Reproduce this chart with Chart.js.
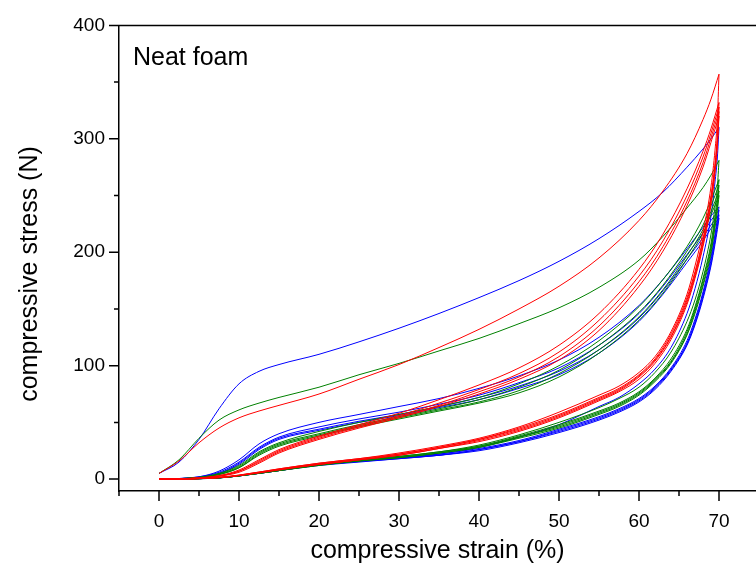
<!DOCTYPE html>
<html>
<head>
<meta charset="utf-8">
<script src="https://cdn.jsdelivr.net/npm/chart.js@4.4.1/dist/chart.umd.min.js"></script>
<style>
  html, body { margin: 0; padding: 0; background: #fff; }
</style>
</head>
<body>
<canvas id="stress-chart" width="756" height="574"></canvas>
<script>
// strain grids (%) for the loading and unloading branches
var strainLoad = [0, 2.5, 5, 7.5, 10, 12.5, 15, 20, 25, 30, 35, 40, 45, 50, 55, 60, 63, 66, 68, 69, 70];
var strainUnload = [70, 69.8, 69.5, 69, 68, 67, 66, 64, 62, 60, 57.5, 55, 50, 45, 40, 35, 30, 25, 20, 15, 10, 7.5, 5, 2.5, 0];

var xTicks = [0, 10, 20, 30, 40, 50, 60, 70];
var yTicks = [0, 100, 200, 300, 400];

// stress (N), one row per cycle
var redLoading = [
  [5, 16, 32, 45, 54, 60, 65, 75, 88, 101, 116, 132, 150, 170, 195, 228, 254, 287, 317, 335, 357],
  [0, 0.3, 1, 3, 8, 17, 26, 38, 48, 58, 70, 83, 98, 118, 146, 185, 216, 256, 289, 309, 332],
  [0, 0.3, 1, 3, 7, 16, 25, 37, 47, 56, 67, 79, 93, 112, 140, 179, 210, 250, 284, 305, 328],
  [0, 0.3, 1, 2.5, 7, 15, 24, 36, 46, 55, 65, 77, 90, 108, 135, 174, 205, 245, 279, 301, 324],
  [0, 0.3, 0.8, 2.5, 6, 14, 23, 35, 45, 54, 64, 75, 88, 105, 131, 170, 201, 241, 275, 297, 320]
];
var redUnloading = [
  [357, 318, 290, 258, 218, 188, 163, 130, 108, 94, 82, 74, 59, 46, 36, 29, 23, 18, 14, 9, 3.5, 1.5, 0.5, 0, 0],
  [332, 303, 278, 250, 212, 183, 160, 128, 106, 92, 80, 72, 57, 45, 35, 28, 22, 18, 14, 9, 3.5, 1.5, 0.5, 0, 0],
  [328, 300, 276, 248, 210, 181, 158, 126, 105, 91, 79, 71, 56, 44, 35, 28, 22, 17, 13, 8.5, 3.2, 1.4, 0.5, 0, 0],
  [324, 297, 273, 245, 207, 179, 156, 125, 104, 90, 78, 70, 55, 43, 34, 27, 21, 17, 13, 8.5, 3.2, 1.3, 0.4, 0, 0],
  [320, 294, 270, 242, 205, 177, 154, 123, 102, 88, 77, 69, 54, 42, 33, 27, 21, 17, 13, 8, 3, 1.2, 0.4, 0, 0]
];

var greenLoading = [
  [5, 17, 36, 52, 61, 67, 72, 81, 92, 102, 113, 124, 137, 151, 169, 193, 214, 239, 257, 268, 281],
  [0, 0.4, 1.5, 5, 12, 24, 32, 42, 50, 57, 64, 72, 84, 100, 122, 152, 176, 205, 230, 246, 264],
  [0, 0.4, 1.5, 4.5, 11, 23, 31, 40, 48, 55, 62, 70, 81, 96, 118, 147, 171, 201, 224, 241, 259],
  [0, 0.4, 1.3, 4, 10, 22, 30, 39, 47, 54, 61, 68, 78, 93, 114, 143, 167, 197, 220, 236, 254],
  [0, 0.3, 1.2, 4, 10, 21, 29, 38, 46, 53, 60, 67, 76, 90, 111, 140, 164, 194, 217, 233, 250]
];
var greenUnloading = [
  [281, 258, 240, 216, 183, 158, 139, 112, 94, 81, 71, 63, 50, 39, 30, 24, 20, 17, 13, 8, 3, 1.2, 0.4, 0, 0],
  [264, 248, 232, 208, 177, 152, 132, 106, 89, 77, 67, 60, 48, 38, 29, 24, 20, 17, 13, 8, 3, 1.2, 0.4, 0, 0],
  [259, 244, 228, 205, 175, 150, 130, 104, 88, 76, 66, 59, 47, 37, 29, 23, 19, 16, 12.5, 7.5, 2.8, 1.1, 0.4, 0, 0],
  [254, 240, 225, 202, 172, 148, 128, 103, 87, 75, 65, 58, 46, 37, 28, 23, 19, 16, 12.5, 7.5, 2.8, 1.1, 0.4, 0, 0],
  [250, 237, 222, 199, 170, 146, 127, 102, 86, 74, 64, 57, 45, 36, 28, 23, 19, 16, 12, 7.5, 2.8, 1, 0.3, 0, 0]
];

var blueLoading = [
  [5, 15, 35, 62, 84, 95, 101, 110, 121, 133, 146, 160, 175, 192, 212, 236, 253, 275, 291, 300, 310],
  [0, 0.5, 2, 7, 17, 31, 40, 50, 57, 64, 71, 80, 91, 105, 125, 153, 176, 203, 222, 232, 240],
  [0, 0.5, 2, 6, 15, 28, 37, 46, 53, 59, 66, 74, 85, 98, 118, 146, 170, 198, 217, 228, 237],
  [0, 0.4, 1.5, 5, 14, 27, 36, 44, 51, 57, 64, 72, 82, 95, 114, 142, 166, 194, 213, 224, 233],
  [0, 0.4, 1.5, 5, 13, 26, 35, 43, 50, 56, 63, 70, 80, 92, 111, 139, 163, 191, 210, 221, 230]
];
var blueUnloading = [
  [310, 284, 262, 232, 196, 168, 146, 116, 97, 84, 72, 64, 48, 37, 28, 22, 19, 16, 13, 8, 3, 1.2, 0.4, 0, 0],
  [240, 230, 216, 196, 165, 141, 122, 98, 82, 71, 62, 55, 44, 34, 27, 22, 19, 16, 13, 8, 3, 1.2, 0.4, 0, 0],
  [237, 227, 213, 193, 163, 139, 120, 97, 81, 70, 61, 54, 43, 33, 26, 21, 18.5, 15.5, 12.5, 7.5, 2.8, 1.1, 0.4, 0, 0],
  [233, 223, 210, 190, 161, 137, 119, 96, 80, 69, 60, 53, 42, 33, 26, 21, 18, 15.5, 12.5, 7.5, 2.8, 1.1, 0.4, 0, 0],
  [230, 220, 207, 188, 159, 136, 118, 95, 79, 68, 59, 52, 41, 32, 25, 21, 18, 15, 12, 7.5, 2.8, 1, 0.3, 0, 0]
];

var FONT = "'Liberation Sans', Arial, Helvetica, sans-serif";

function curve(xs, ys) {
  return xs.map(function (x, i) { return { x: x, y: ys[i] }; });
}

var datasets = [];
function addCycles(load, unload, color) {
  for (var i = 0; i < load.length; i++) {
    datasets.push({ data: curve(strainLoad, load[i]), borderColor: color });
    datasets.push({ data: curve(strainUnload, unload[i]), borderColor: color });
  }
}
addCycles(redLoading, redUnloading, '#ff0000');
addCycles(greenLoading, greenUnloading, '#008000');
addCycles(blueLoading, blueUnloading, '#0000ff');

// top frame line, tick marks (major + minor), y title and the panel label
var frame = {
  id: 'frame',
  afterDraw: function (chart) {
    var ctx = chart.ctx, a = chart.chartArea;
    var xs = chart.scales.x, ys = chart.scales.y;
    ctx.save();
    ctx.strokeStyle = '#000';
    ctx.lineWidth = 1.5;
    ctx.beginPath();
    ctx.moveTo(a.left, a.top);
    ctx.lineTo(a.right, a.top);
    for (var v = -5; v <= 70; v += 5) {
      var px = xs.getPixelForValue(v);
      ctx.moveTo(px, a.bottom);
      ctx.lineTo(px, a.bottom + (v % 10 === 0 ? 10 : 5));
    }
    for (var w = 0; w <= 400; w += 50) {
      var py = ys.getPixelForValue(w);
      ctx.moveTo(a.left, py);
      ctx.lineTo(a.left - (w % 100 === 0 ? 10 : 5), py);
    }
    ctx.stroke();
    ctx.fillStyle = '#000';
    ctx.font = '25px ' + FONT;
    ctx.textBaseline = 'alphabetic';
    ctx.fillText('Neat foam', a.left + 14, a.top + 40);

    ctx.translate(30, 274);
    ctx.rotate(-Math.PI / 2);
    ctx.textAlign = 'center';
    ctx.textBaseline = 'middle';
    ctx.fillText('compressive stress (N)', 0, 0);
    ctx.restore();
  }
};

new Chart(document.getElementById('stress-chart'), {
  type: 'line',
  data: { datasets: datasets },
  plugins: [frame],
  options: {
    responsive: false,
    animation: false,
    layout: { padding: { top: 20, left: 0, right: 0, bottom: 0 } },
    plugins: { legend: { display: false }, tooltip: { enabled: false } },
    elements: {
      point: { radius: 0 },
      line: { borderWidth: 1, cubicInterpolationMode: 'monotone', fill: false }
    },
    scales: {
      x: {
        type: 'linear',
        min: -5,
        max: 74.625,
        afterFit: function (s) { s.height = 83; },
        afterBuildTicks: function (s) { s.ticks = xTicks.map(function (v) { return { value: v }; }); },
        grid: { drawOnChartArea: false, drawTicks: false },
        border: { color: '#000', width: 1.5 },
        ticks: { color: '#000', font: { family: FONT, size: 19 }, padding: 19, maxRotation: 0, autoSkip: false },
        title: {
          display: true,
          text: 'compressive strain (%)',
          color: '#000',
          font: { family: FONT, size: 25 },
          padding: { top: 0, bottom: 8 }
        }
      },
      y: {
        type: 'linear',
        min: -10.5,
        max: 400,
        afterFit: function (s) { s.width = 119; },
        afterBuildTicks: function (s) { s.ticks = yTicks.map(function (v) { return { value: v }; }); },
        grid: { drawOnChartArea: false, drawTicks: false },
        border: { color: '#000', width: 1.5 },
        ticks: { color: '#000', font: { family: FONT, size: 19 }, padding: 14 }
      }
    }
  }
});
</script>
</body>
</html>
